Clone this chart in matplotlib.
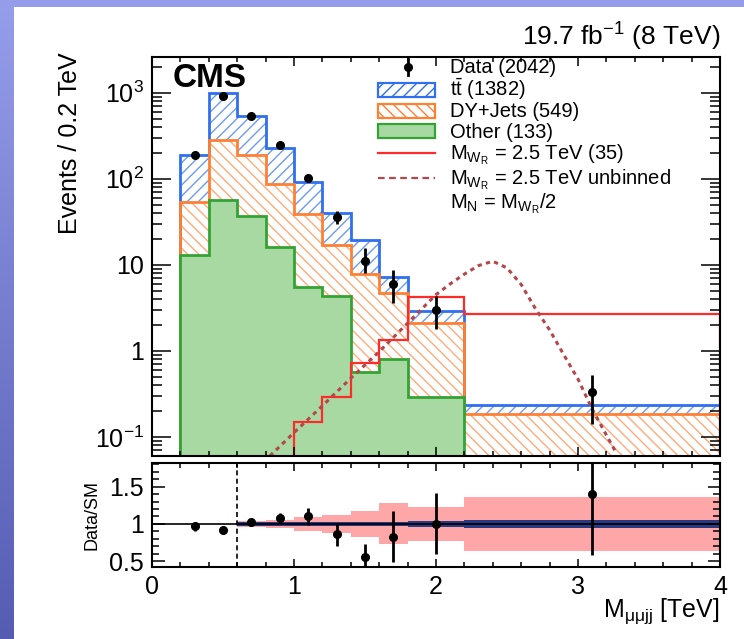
import matplotlib.pyplot as plt
import numpy as np
from matplotlib.lines import Line2D
from matplotlib.patches import Rectangle
from matplotlib.ticker import FixedLocator, MultipleLocator, NullFormatter

plt.rcParams["font.family"] = ["Liberation Sans", "DejaVu Sans"]
plt.rcParams["mathtext.fontset"] = "custom"
plt.rcParams["mathtext.rm"] = "Liberation Sans"
plt.rcParams["mathtext.it"] = "Liberation Sans:italic"
plt.rcParams["mathtext.bf"] = "Liberation Sans:bold"
plt.rcParams["hatch.linewidth"] = 1.0

# binning in TeV, backgrounds in events / 0.2 TeV
EDGES = [0.2, 0.4, 0.6, 0.8, 1.0, 1.2, 1.4, 1.6, 1.8, 2.2, 4.0]
OTHER = [13.1, 57.0, 37.0, 16.3, 5.5, 4.3, 0.57, 0.80, 0.29, 0.0]
DY_JETS = [41.0, 222.0, 153.0, 71.0, 33.0, 12.8, 7.3, 3.9, 1.84, 0.185]
TTBAR = [136.0, 721.0, 351.0, 141.0, 52.0, 23.0, 11.4, 2.5, 0.81, 0.05]
SIGNAL = [0.0, 0.0, 0.0, 0.0, 0.148, 0.294, 0.73, 1.34, 4.28, 2.67]

DATA_X = [0.3, 0.5, 0.7, 0.9, 1.1, 1.3, 1.5, 1.7, 2.0, 3.1]
DATA_Y = [190, 906, 541, 248, 102, 35.9, 11.2, 6.0, 3.0, 0.336]
DATA_ERR_LO = [14, 30, 23, 16, 10, 6, 3.2, 2.4, 1.2, 0.196]
DATA_ERR_HI = [14, 30, 23, 16, 10, 6, 4.4, 2.7, 1.3, 0.19]

# unbinned signal shape
SIG_CURVE_X = [0.83, 1.0, 1.2, 1.4, 1.6, 1.8, 2.0, 2.1, 2.2, 2.3, 2.4,
               2.5, 2.6, 2.7, 2.8, 2.9, 3.0, 3.1, 3.2, 3.27]
SIG_CURVE_Y = [0.06, 0.112, 0.23, 0.48, 0.98, 2.1, 4.5, 6.0, 7.8, 9.8, 11.0,
               9.2, 5.9, 3.1, 1.75, 0.9, 0.47, 0.21, 0.105, 0.065]

# ratio panel
RATIO = [0.97, 0.92, 1.02, 1.08, 1.10, 0.86, 0.56, 0.83, 1.00, 1.40]
RATIO_ERR_LO = [0.06, 0.04, 0.05, 0.07, 0.11, 0.16, 0.20, 0.34, 0.41, 0.82]
RATIO_ERR_HI = [0.06, 0.04, 0.05, 0.07, 0.11, 0.15, 0.17, 0.35, 0.41, 0.84]
SYST_HALF = [0.04, 0.055, 0.09, 0.12, 0.17, 0.275, 0.225, 0.365]  # bins from 0.6 TeV
STAT_HALF = [0.025, 0.025, 0.025, 0.03, 0.03, 0.03, 0.045, 0.05]

LEGEND_LABELS = [
    "Data (2042)",
    r"t$\bar{\mathrm{t}}$ (1382)",
    "DY+Jets (549)",
    "Other (133)",
    r"M$_{\mathrm{W_{R}}}$ = 2.5 TeV (35)",
    r"M$_{\mathrm{W_{R}}}$ = 2.5 TeV unbinned",
    r"M$_{\mathrm{N}}$ = M$_{\mathrm{W_{R}}}$/2",
]
LEGEND_BASELINES = [73, 96, 117, 138, 159, 184, 208]  # pixel rows of the legend text

BLUE, BLUE_HATCH = "#2f6ff0", "#6d9bf3"
ORANGE, ORANGE_HATCH = "#ff8032", "#ffaa78"
GREEN, GREEN_FILL = "#33a433", "#a9d9a3"
RED, DARK_RED = "#ff2b2b", "#b3474c"
PINK, NAVY = "#ffa6a9", "#2a3980"

W, H = 744, 639
FLOOR = 1e-3

fig = plt.figure(figsize=(W / 100, H / 100), dpi=100)

# slide background: blue gradient with a white sheet on top
bg = fig.add_axes([0, 0, 1, 1], zorder=-10)
grad = np.linspace(0, 1, 256)[:, None, None]
top_c = np.array([150, 157, 234]) / 255
bot_c = np.array([86, 92, 178]) / 255
bg.imshow(np.repeat(top_c + grad * (bot_c - top_c), 2, axis=1), aspect="auto",
          extent=[0, 1, 0, 1])
bg.add_patch(Rectangle((14 / W, 0), 1, 1 - 7 / H, facecolor="white", lw=0))
bg.set_xlim(0, 1)
bg.set_ylim(0, 1)
bg.axis("off")

ax = fig.add_axes([152 / W, (H - 456) / H, 568 / W, 399 / H])
rax = fig.add_axes([152 / W, (H - 567) / H, 568 / W, 104 / H])

# ---- stacked backgrounds ----
other = np.array(OTHER)
dy_top = other + np.array(DY_JETS)
tt_top = dy_top + np.array(TTBAR)
green_base = np.where(other > 0, other, FLOOR)

ax.stairs(tt_top, EDGES, baseline=dy_top, fill=True, facecolor="none",
          edgecolor=BLUE_HATCH, hatch="///", lw=0)
ax.stairs(dy_top, EDGES, baseline=green_base, fill=True, facecolor="none",
          edgecolor=ORANGE_HATCH, hatch="\\\\\\", lw=0)
ax.stairs(tt_top, EDGES, baseline=FLOOR, fill=False, edgecolor=BLUE, lw=2)
ax.stairs(dy_top, EDGES, baseline=FLOOR, fill=False, edgecolor=ORANGE, lw=2)
ax.stairs(other[:-1], EDGES[:-1], baseline=FLOOR, fill=True,
          facecolor=GREEN_FILL, edgecolor="none", lw=0)
ax.stairs(other[:-1], EDGES[:-1], baseline=FLOOR, fill=False, edgecolor=GREEN, lw=2)

# ---- signal ----
ax.stairs(SIGNAL[4:], EDGES[4:], baseline=FLOOR, fill=False, edgecolor=RED, lw=1.6)
ax.plot(SIG_CURVE_X, SIG_CURVE_Y, color=DARK_RED, lw=2.2, ls=(0, (1.4, 1.4)))

# ---- data ----
ax.errorbar(DATA_X, DATA_Y, yerr=[DATA_ERR_LO, DATA_ERR_HI], fmt="o", color="black",
            ms=5.5, elinewidth=2, capsize=0)

ax.set_yscale("log")
ax.set_xlim(0, 4)
ax.set_ylim(0.06, 2600)
ax.yaxis.set_major_locator(FixedLocator([0.1, 1, 10, 100, 1000]))
ax.set_yticklabels([r"$10^{-1}$", "1", "10", r"$10^{2}$", r"$10^{3}$"])
ax.yaxis.set_minor_locator(FixedLocator(
    [m * 10.0 ** e for e in range(-2, 4) for m in range(2, 10)]))
ax.yaxis.set_minor_formatter(NullFormatter())
ax.xaxis.set_major_locator(MultipleLocator(1))
ax.xaxis.set_minor_locator(MultipleLocator(0.2))
ax.tick_params(axis="x", which="both", labelbottom=False)
ax.tick_params(which="both", direction="in", top=True, right=True, width=1.1,
               labelsize=18, pad=6)
ax.tick_params(axis="y", which="major", length=14)
ax.tick_params(axis="y", which="minor", length=7)
ax.tick_params(axis="x", which="major", length=6.5)
ax.tick_params(axis="x", which="minor", length=3.3)
for s in ax.spines.values():
    s.set_linewidth(1.5)
ax.set_ylabel("Events / 0.2 TeV", fontsize=18)
ax.yaxis.set_label_coords(-0.123, 0.783)

ax.text(0.037, (456 - 87) / 399, "CMS", transform=ax.transAxes, fontsize=24,
        fontweight="bold", va="baseline")
ax.text(1.0, (456 - 46) / 399, r"19.7 fb$^{-1}$ (8 TeV)", transform=ax.transAxes,
        fontsize=19, ha="right", va="baseline")


# ---- legend, drawn by hand to get ROOT-like tight rows ----
def to_ax(x, y):
    return (x - 152) / 568, (456 - y) / 399


box_w = (435 - 378) / 568
box_h = 14 / 399
for i, (label, base) in enumerate(zip(LEGEND_LABELS, LEGEND_BASELINES)):
    mid = base - 6.5
    tx, ty = to_ax(450, base)
    ax.text(tx, ty, label, transform=ax.transAxes, fontsize=14.5, va="baseline")
    hx, hy = to_ax(378, mid)
    if i == 0:
        mx, my = to_ax(408, mid)
        ax.add_line(Line2D([mx, mx], [my - 8 / 399, my + 8 / 399], color="black",
                           lw=2, transform=ax.transAxes))
        ax.add_line(Line2D([mx], [my], marker="o", ms=5.5, color="black",
                           transform=ax.transAxes))
    elif i in (1, 2, 3):
        fc, ec, hatch = [("white", BLUE, "///"), ("white", ORANGE, "\\\\\\"),
                         (GREEN_FILL, GREEN, None)][i - 1]
        ax.add_patch(Rectangle((hx, hy - box_h / 2), box_w, box_h, facecolor=fc,
                               edgecolor=ec, hatch=hatch, lw=1.6,
                               transform=ax.transAxes))
    elif i == 4:
        ax.add_line(Line2D([hx, hx + box_w], [hy, hy], color=RED, lw=1.6,
                           transform=ax.transAxes))
    elif i == 5:
        ax.add_line(Line2D([hx, hx + box_w], [hy, hy], color=DARK_RED, lw=1.6,
                           ls=(0, (3, 2)), transform=ax.transAxes))

# ---- ratio panel ----
syst = np.array(SYST_HALF)
stat = np.array(STAT_HALF)
rax.stairs(1 + syst, EDGES[2:], baseline=1 - syst, fill=True, color=PINK, lw=0)
rax.stairs(1 + stat, EDGES[2:], baseline=1 - stat, fill=True, color=NAVY, lw=0)
rax.axhline(1, color="black", lw=1.2)
rax.axvline(EDGES[2], color="black", lw=1.2, ls=(0, (3, 2)))
rax.errorbar(DATA_X, RATIO, yerr=[RATIO_ERR_LO, RATIO_ERR_HI], fmt="o", color="black",
             ms=5.5, elinewidth=2, capsize=0)

rax.set_xlim(0, 4)
rax.set_ylim(0.42, 1.82)
rax.xaxis.set_major_locator(MultipleLocator(1))
rax.xaxis.set_minor_locator(MultipleLocator(0.2))
rax.yaxis.set_major_locator(FixedLocator([0.5, 1.0, 1.5]))
rax.set_yticklabels(["0.5", "1", "1.5"])
rax.yaxis.set_minor_locator(MultipleLocator(0.1))
rax.tick_params(which="both", direction="in", top=True, right=True, width=1.1,
                labelsize=18, pad=6)
rax.tick_params(axis="y", which="major", length=9)
rax.tick_params(axis="y", which="minor", length=5)
rax.tick_params(axis="x", which="major", length=6)
rax.tick_params(axis="x", which="minor", length=3.3)
for s in rax.spines.values():
    s.set_linewidth(1.5)
rax.set_ylabel("Data/SM", fontsize=13)
rax.yaxis.set_label_coords(-0.0915, 0.5)
rax.set_xlabel(r"M$_{\mathrm{\mu\mu jj}}$ [TeV]", fontsize=18, ha="right")
rax.xaxis.set_label_coords(1.0, -0.28)

fig.savefig("out.png", dpi=100)
